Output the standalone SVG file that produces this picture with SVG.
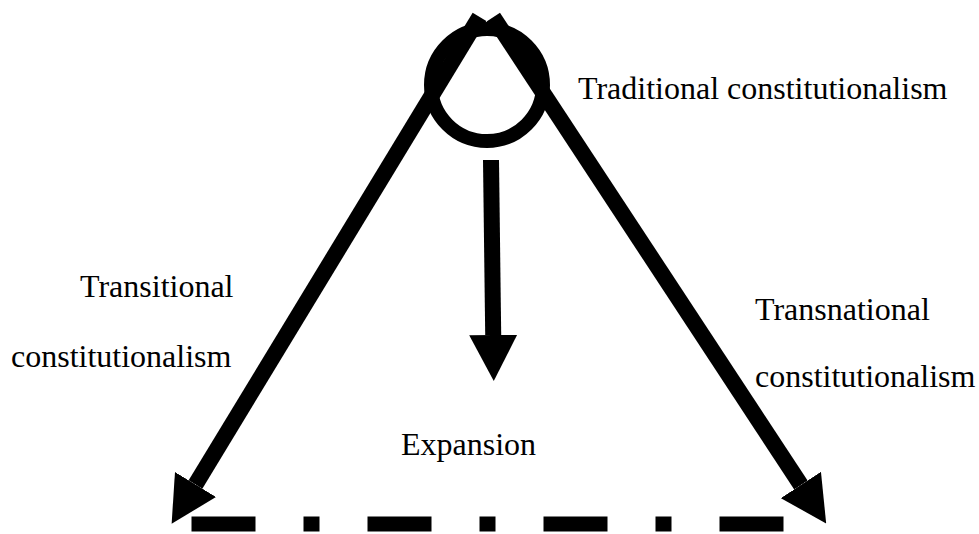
<svg xmlns="http://www.w3.org/2000/svg" width="979" height="534" viewBox="0 0 979 534">
  <style>
    .lbl { font-family: "Liberation Serif", "Times New Roman", serif; font-size: 32px; fill: #000; }
    .conn { stroke: #000; stroke-width: 16; fill: none; stroke-linecap: butt; }
  </style>
  <defs>
    <marker id="arrow" markerUnits="userSpaceOnUse" viewBox="0 -24 46 48" markerWidth="46" markerHeight="48" refX="0" refY="0" orient="auto">
      <path d="M0,-24 L46,0 L0,24 z" fill="#000"/>
    </marker>
  </defs>
  <rect width="979" height="534" fill="#fff"/>
  <g id="traditional">
    <circle cx="487" cy="85" r="56" fill="none" stroke="#000" stroke-width="14"/>
    <text class="lbl" x="578" y="99">Traditional constitutionalism</text>
  </g>
  <g id="connectors">
    <path class="conn" d="M479.5,16.9 L195.5,484.5" marker-end="url(#arrow)"/>
    <path class="conn" d="M493.3,17.1 L800.9,485" marker-end="url(#arrow)"/>
    <path class="conn" d="M491,160 L493.2,335" marker-end="url(#arrow)"/>
  </g>
  <g id="transitional">
    <text class="lbl" x="80" y="297">Transitional</text>
    <text class="lbl" x="11" y="367">constitutionalism</text>
  </g>
  <g id="transnational">
    <text class="lbl" x="755" y="320">Transnational</text>
    <text class="lbl" x="755" y="387">constitutionalism</text>
  </g>
  <g id="expansion">
    <text class="lbl" x="401" y="455">Expansion</text>
  </g>
  <g id="baseline">
    <line x1="191.5" y1="524" x2="783.5" y2="524" stroke="#000" stroke-width="15" stroke-dasharray="64 48 16 48"/>
  </g>
</svg>
